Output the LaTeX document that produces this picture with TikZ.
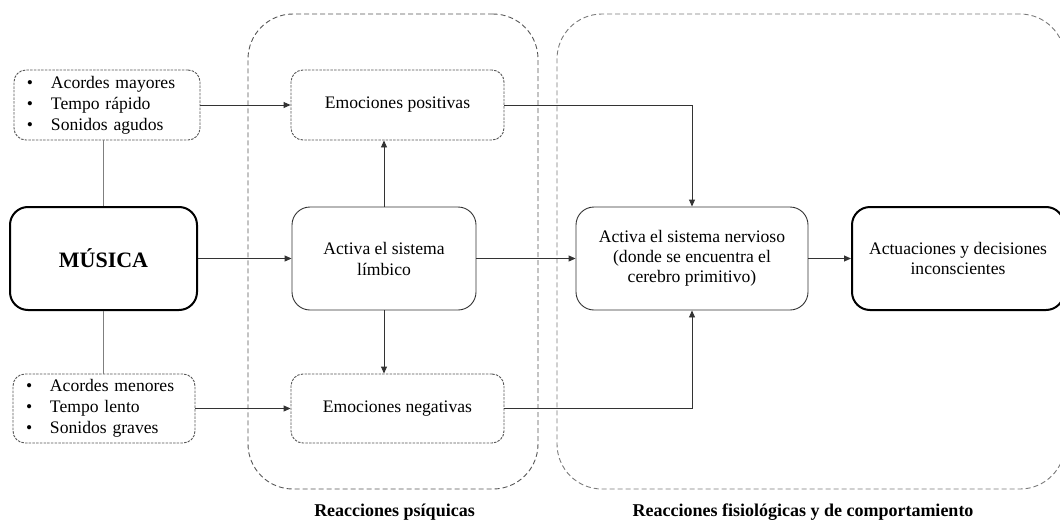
\documentclass[tikz,border=0pt]{standalone}
\usepackage{fontspec}
\setmainfont{Liberation Serif}
\usetikzlibrary{arrows.meta}

\definecolor{linedark}{HTML}{333333}
\definecolor{linegray}{HTML}{7F7F7F}
\definecolor{dashgray}{HTML}{555555}
\definecolor{dashlight}{HTML}{7A7A7A}

\begin{document}
\begin{tikzpicture}[x=1pt, y=-1pt,
  every node/.style={font=\fontsize{17.6}{21}\selectfont, align=center, inner sep=0pt},
  groupbox/.style={draw=dashgray, line width=0.9pt, dash pattern=on 5pt off 3pt, rounded corners=45pt},
  dotbox/.style={draw=dashgray, line width=0.9pt, dash pattern=on 2.5pt off 1.2pt, rounded corners=12pt},
  plainbox/.style={draw=linedark, line width=0.9pt, rounded corners=18pt},
  boldbox/.style={draw=black, line width=2pt, rounded corners=18pt},
  listbox/.style={dotbox, align=left, inner xsep=13pt},
  conn/.style={draw=linedark, line width=0.9pt, -{Triangle[length=7pt, width=6pt]}},
  link/.style={draw=linegray, line width=1.2pt},
  grouplabel/.style={font=\bfseries\fontsize{18}{21}\selectfont}
]
\useasboundingbox (0,0) rectangle (1060,522);

% reaction groups
\node[groupbox, minimum width=290pt, minimum height=475pt] (grp1) at (393,251.5) {};
\node[groupbox, draw=dashlight, minimum width=508pt, minimum height=475pt] (grp2) at (811,251.5) {};
\node[grouplabel] (lab1) at (394.5,512) {Reacciones psíquicas};
\node[grouplabel] (lab2) at (803,512) {Reacciones fisiológicas y de comportamiento};

% music and its features
\node[boldbox, minimum width=187pt, minimum height=103pt, font=\bfseries\fontsize{22}{26}\selectfont] (musica) at (103.5,258.5) {MÚSICA};
\node[listbox, text width=160pt, minimum height=70pt] (topbul) at (107,105)
  {\makebox[24pt][l]{\textbullet}Acordes mayores\\
   \makebox[24pt][l]{\textbullet}Tempo rápido\\
   \makebox[24pt][l]{\textbullet}Sonidos agudos};
\node[listbox, text width=156pt, minimum height=69pt] (botbul) at (104,408.5)
  {\makebox[24pt][l]{\textbullet}Acordes menores\\
   \makebox[24pt][l]{\textbullet}Tempo lento\\
   \makebox[24pt][l]{\textbullet}Sonidos graves};

% psychic reactions
\node[dotbox, minimum width=213pt, minimum height=70pt] (pos) at (397.5,105) {Emociones positivas};
\node[plainbox, minimum width=184pt, minimum height=103pt] (lim) at (384,258.5) {Activa el sistema\\límbico};
\node[dotbox, minimum width=213pt, minimum height=69pt] (neg) at (397.5,408.5) {Emociones negativas};

% physiological reactions
\node[plainbox, minimum width=232pt, minimum height=103pt, font=\fontsize{17.6}{20}\selectfont] (nerv) at (692,258.5)
  {Activa el sistema nervioso\\(donde se encuentra el\\cerebro primitivo)};
\node[boldbox, minimum width=212pt, minimum height=103pt, font=\fontsize{17.6}{20}\selectfont] (act) at (958,258.5)
  {Actuaciones y decisiones\\inconscientes};

% links
\draw[link] (musica.north) -- (musica.north |- topbul.south);
\draw[link] (musica.south) -- (musica.south |- botbul.north);

\draw[conn] (topbul.east) -- (pos.west);
\draw[conn] (botbul.east) -- (neg.west);
\draw[conn] (musica.east) -- (lim.west);
\draw[conn] (lim.north) -- (lim.north |- pos.south);
\draw[conn] (lim.south) -- (lim.south |- neg.north);
\draw[conn] (lim.east) -- (nerv.west);
\draw[conn] (pos.east) -| (nerv.north);
\draw[conn] (neg.east) -| (nerv.south);
\draw[conn] (nerv.east) -- (act.west);
\end{tikzpicture}
\end{document}
